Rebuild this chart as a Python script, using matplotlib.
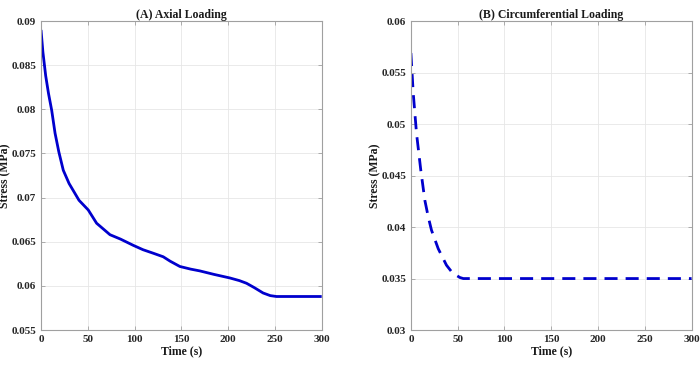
import matplotlib
matplotlib.use("Agg")
import matplotlib.pyplot as plt

# Data
t_axial = [0, 2, 5, 8, 11.4, 15, 19, 23.8, 30, 40.6, 50.5, 59.4, 66, 73.7, 85, 98.5, 109, 120, 130.6, 138, 148.4, 160, 169.7, 185, 201.8, 212, 219.6, 228, 237.3, 245, 251.6, 260, 300]
s_axial = [0.0890, 0.0865, 0.0838, 0.0818, 0.0799, 0.0773, 0.0752, 0.0731, 0.0716, 0.0697, 0.0686, 0.0671, 0.0665, 0.0658, 0.0653, 0.0646, 0.0641, 0.0637, 0.0633, 0.0628, 0.0622, 0.0619, 0.0617, 0.0613, 0.0609, 0.0606, 0.0603, 0.0598, 0.0592, 0.0589, 0.0588, 0.0588, 0.0588]

t_circ = [0, 2.5, 6, 10.6, 14.9, 18.5, 22, 29.2, 38, 44, 48.8, 52.4, 56, 300]
s_circ = [0.0569, 0.0530, 0.0491, 0.0455, 0.0426, 0.0410, 0.0397, 0.0379, 0.0363, 0.0356, 0.0353, 0.0351, 0.0350, 0.0350]

titles = ["(A) Axial Loading", "(B) Circumferential Loading"]
xticks = [0, 50, 100, 150, 200, 250, 300]
yticks_a = [0.055, 0.06, 0.065, 0.07, 0.075, 0.08, 0.085, 0.09]
yticks_b = [0.03, 0.035, 0.04, 0.045, 0.05, 0.055, 0.06]

plt.rcParams['font.family'] = ['Liberation Serif', 'DejaVu Serif']
plt.rcParams['font.weight'] = 'bold'

fig = plt.figure(figsize=(7, 3.7), dpi=100)
ax1 = fig.add_axes([0.0586, 0.108, 0.401, 0.835])
ax2 = fig.add_axes([0.587, 0.108, 0.401, 0.835])

color = '#0000CD'
ax1.plot(t_axial, s_axial, color=color, lw=2.0, solid_capstyle='butt')
ax2.plot(t_circ, s_circ, color=color, lw=2.0, linestyle=(0, (4.7, 2.9)))

for ax, title, yt in [(ax1, titles[0], yticks_a), (ax2, titles[1], yticks_b)]:
    ax.set_xlim(0, 300)
    ax.set_ylim(yt[0], yt[-1])
    ax.set_xticks(xticks)
    ax.set_yticks(yt)
    ax.set_yticklabels([('%g' % v) for v in yt])
    ax.set_xticklabels([str(v) for v in xticks])
    ax.grid(True, color='#e6e6e6', lw=0.6)
    ax.set_axisbelow(True)
    for s in ax.spines.values():
        s.set_color('#a0a0a0')
        s.set_linewidth(0.8)
    ax.tick_params(direction='in', top=True, right=True, length=3, width=0.6,
                   colors='#a0a0a0', labelcolor='#262626', labelsize=8)
    for lab in ax.get_xticklabels() + ax.get_yticklabels():
        lab.set_fontweight('bold')
    ax.set_title(title, fontsize=8.5, fontweight='bold', pad=2, color='#1a1a1a')
    ax.set_xlabel('Time (s)', fontsize=8.5, fontweight='bold', labelpad=1, color='#1a1a1a')
    ax.set_ylabel('Stress (MPa)', fontsize=8.5, fontweight='bold', color='#1a1a1a')
    ax.yaxis.set_label_coords(-0.107, 0.5)

fig.savefig('out.png', dpi=100)
